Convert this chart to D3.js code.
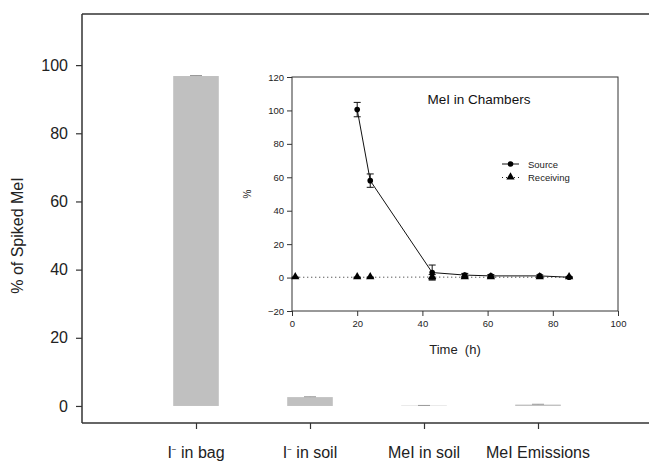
<!DOCTYPE html>
<html>
<head>
<meta charset="utf-8">
<script src="https://cdn.jsdelivr.net/npm/d3@7"></script>
<style>
body { margin: 0; background: #fff; }
svg { display: block; font-family: "Liberation Sans", Arial, sans-serif; }
</style>
</head>
<body>
<div id="canvas"></div>
<script>
// ----------------------------------------------------------
// DATA -----------------------------------------------------
// ----------------------------------------------------------
var bar_categories = ["I in bag", "I in soil", "MeI in soil", "MeI Emissions"];
var bar_superscript = ["\u2212", "\u2212", "", ""];
var bar_values = [96.8, 2.6, 0.1, 0.4];
var bar_errors = [0.15, 0.1, 0.05, 0.1];
var bar_ticks = [0, 20, 40, 60, 80, 100];

var source_time = [20, 24, 43, 53, 61, 76, 85];
var source_values = [100.5, 58, 3, 1.5, 1, 1, 0.2];
var source_errors = [4.3, 4, 4.5, 1, 0.8, 0.6, 0.3];

var receiving_time = [1, 20, 24, 43, 53, 61, 76, 85];
var receiving_values = [0.2, 0.2, 0.2, 0.3, 0.2, 0.2, 0.2, 0.2];
var receiving_errors = [0, 0, 0, 1.5, 0.3, 0.3, 0.3, 0.2];

var inset_x_ticks = [0, 20, 40, 60, 80, 100];
var inset_y_ticks = [-20, 0, 20, 40, 60, 80, 100, 120];

// ----------------------------------------------------------
// STRUCTURE ------------------------------------------------
// ----------------------------------------------------------
var W = 649, H = 464;
var color_axis = "#333";
var color_bar = "#c0c0c0";

var svg = d3.select("#canvas").append("svg")
.attr("width", W)
.attr("height", H);

// main scales
var xMain = d3.scaleLinear().domain([0, 5]).range([82, 652]);
var yMain = d3.scaleLinear().domain([-5, 115]).range([423, 14]);

// inset scales
var xIn = d3.scaleLinear().domain([0, 100]).range([292, 618]);
var yIn = d3.scaleLinear().domain([-20, 120]).range([311, 77]);

// ----------------------------------------------------------
// MAIN BAR CHART -------------------------------------------
// ----------------------------------------------------------
var main = svg.append("g").attr("class", "main");

// frame: top line
main.append("line")
.attr("x1", xMain(0)).attr("x2", W + 5)
.attr("y1", yMain(115)).attr("y2", yMain(115))
.attr("stroke", color_axis).attr("stroke-width", 1.5);

var bar_w = xMain(0.4) - xMain(0);

main.selectAll(".bar")
.data(bar_values)
.enter()
.append("rect")
.attr("class", "bar")
.attr("x", function(d, i) { return xMain(i + 1) - bar_w / 2; })
.attr("y", function(d) { return yMain(d); })
.attr("width", bar_w)
.attr("height", function(d) { return yMain(0) - yMain(d); })
.style("fill", color_bar);

// bar error caps
main.selectAll(".bar_err")
.data(bar_values)
.enter()
.append("path")
.attr("class", "bar_err")
.attr("d", function(d, i) {
var cx = xMain(i + 1), t = yMain(d + bar_errors[i]), b = yMain(d);
return "M" + (cx - 6) + "," + t + "H" + (cx + 6) + "M" + cx + "," + t + "V" + b;
})
.attr("stroke", "#999")
.attr("stroke-width", 1)
.attr("fill", "none");

// y axis
main.append("g")
.attr("transform", "translate(" + xMain(0) + ",0)")
.call(d3.axisLeft(yMain).tickValues(bar_ticks).tickSize(6).tickPadding(8).tickFormat(d3.format("d")))
.call(function(g) {
g.select(".domain").attr("d", "M0," + yMain(115) + "V" + yMain(-5)).attr("stroke", color_axis).attr("stroke-width", 1.5);
g.selectAll(".tick line").attr("stroke", color_axis).attr("stroke-width", 1.2);
g.selectAll(".tick text").attr("fill", "#222").style("font-size", "16px")
.style("font-family", "'Liberation Sans', Arial, sans-serif");
});

// x axis
main.append("g")
.attr("transform", "translate(0," + yMain(-5) + ")")
.call(d3.axisBottom(xMain).tickValues([1, 2, 3, 4]).tickSize(6).tickFormat(""))
.call(function(g) {
g.select(".domain").attr("d", "M" + xMain(0) + ",0H" + (W + 5)).attr("stroke", color_axis).attr("stroke-width", 1.5);
g.selectAll(".tick line").attr("stroke", color_axis).attr("stroke-width", 1.2);
});

// category labels
var cat = main.selectAll(".cat")
.data(bar_categories)
.enter()
.append("text")
.attr("class", "cat")
.attr("x", function(d, i) { return xMain(i + 1); })
.attr("y", 458)
.attr("text-anchor", "middle")
.style("font-size", "16px")
.style("fill", "#222");
cat.each(function(d, i) {
var t = d3.select(this);
var first = d.slice(0, 1), rest = d.slice(1);
t.append("tspan").text(first);
if (bar_superscript[i]) {
t.append("tspan").attr("dy", -6).style("font-size", "8px").text(bar_superscript[i]);
t.append("tspan").attr("dy", 6).text(rest);
} else {
t.append("tspan").text(rest);
}
});

// y label
main.append("text")
.attr("transform", "translate(23," + yMain(50) + ") rotate(-90)")
.attr("text-anchor", "middle")
.style("font-size", "16px")
.style("fill", "#222")
.text("% of Spiked MeI");

// ----------------------------------------------------------
// INSET ----------------------------------------------------
// ----------------------------------------------------------
var inset = svg.append("g").attr("class", "inset");

inset.append("rect")
.attr("x", xIn(0)).attr("y", yIn(120))
.attr("width", xIn(100) - xIn(0))
.attr("height", yIn(-20) - yIn(120))
.attr("fill", "none")
.attr("stroke", color_axis)
.attr("stroke-width", 1);

inset.append("g")
.attr("transform", "translate(" + xIn(0) + ",0)")
.call(d3.axisLeft(yIn).tickValues(inset_y_ticks).tickSize(5).tickPadding(3))
.call(function(g) {
g.select(".domain").remove();
g.selectAll(".tick line").attr("stroke", color_axis);
g.selectAll(".tick text").attr("fill", "#222").style("font-size", "9.5px")
.style("font-family", "'Liberation Sans', Arial, sans-serif");
});

inset.append("g")
.attr("transform", "translate(0," + yIn(-20) + ")")
.call(d3.axisBottom(xIn).tickValues(inset_x_ticks).tickSize(5).tickPadding(4))
.call(function(g) {
g.select(".domain").remove();
g.selectAll(".tick line").attr("stroke", color_axis);
g.selectAll(".tick text").attr("fill", "#222").style("font-size", "9.5px")
.style("font-family", "'Liberation Sans', Arial, sans-serif");
});

inset.append("text")
.attr("x", xIn(50)).attr("y", 354)
.attr("text-anchor", "middle")
.style("font-size", "13px")
.style("fill", "#222")
.attr("xml:space", "preserve")
.text("Time  (h)");

inset.append("text")
.attr("transform", "translate(251," + yIn(50) + ") rotate(-90)")
.attr("text-anchor", "middle")
.style("font-size", "10px")
.style("fill", "#222")
.text("%");

inset.append("text")
.attr("x", 479).attr("y", 104)
.attr("text-anchor", "middle")
.style("font-size", "13.5px")
.style("fill", "#111")
.text("MeI in Chambers");

// receiving line (dotted)
var line_rec = d3.line()
.x(function(d) { return xIn(d[0]); })
.y(function(d) { return yIn(d[1]); });
inset.append("path")
.datum(d3.zip(receiving_time, receiving_values))
.attr("d", line_rec)
.attr("fill", "none")
.attr("stroke", "#222")
.attr("stroke-width", 1)
.attr("stroke-dasharray", "1,3");

// source line
inset.append("path")
.datum(d3.zip(source_time, source_values))
.attr("d", line_rec)
.attr("fill", "none")
.attr("stroke", "#111")
.attr("stroke-width", 1);

// error bars
function errPath(t, v, e) {
var cx = xIn(t), y1 = yIn(v + e), y2 = yIn(v - e);
return "M" + (cx - 3.5) + "," + y1 + "H" + (cx + 3.5) +
"M" + cx + "," + y1 + "V" + y2 +
"M" + (cx - 3.5) + "," + y2 + "H" + (cx + 3.5);
}
inset.selectAll(".src_err")
.data(source_values)
.enter()
.append("path")
.attr("d", function(d, i) { return errPath(source_time[i], d, source_errors[i]); })
.attr("stroke", "#111").attr("stroke-width", 1).attr("fill", "none");
inset.selectAll(".rec_err")
.data(receiving_values)
.enter()
.append("path")
.attr("d", function(d, i) { return errPath(receiving_time[i], d, receiving_errors[i]); })
.attr("stroke", "#111").attr("stroke-width", 1).attr("fill", "none");

// markers
var tri = d3.symbol().type(d3.symbolTriangle).size(30);
inset.selectAll(".rec_pt")
.data(receiving_values)
.enter()
.append("path")
.attr("transform", function(d, i) { return "translate(" + xIn(receiving_time[i]) + "," + (yIn(d) - 0.5) + ")"; })
.attr("d", tri)
.attr("fill", "#000");
inset.selectAll(".src_pt")
.data(source_values)
.enter()
.append("circle")
.attr("cx", function(d, i) { return xIn(source_time[i]); })
.attr("cy", function(d) { return yIn(d); })
.attr("r", 2.8)
.attr("fill", "#000");

// legend
var leg = inset.append("g").attr("transform", "translate(502,164)");
leg.append("line").attr("x1", 0).attr("x2", 17).attr("y1", 0).attr("y2", 0).attr("stroke", "#111");
leg.append("circle").attr("cx", 8.5).attr("cy", 0).attr("r", 2.8).attr("fill", "#000");
leg.append("text").attr("x", 26).attr("y", 3.5).style("font-size", "9.5px").style("fill", "#222").text("Source");
leg.append("line").attr("x1", 0).attr("x2", 17).attr("y1", 13.5).attr("y2", 13.5)
.attr("stroke", "#222").attr("stroke-dasharray", "1,3");
leg.append("path").attr("transform", "translate(8.5,13)").attr("d", tri).attr("fill", "#000");
leg.append("text").attr("x", 26).attr("y", 17).style("font-size", "9.5px").style("fill", "#222").text("Receiving");
</script>
</body>
</html>
